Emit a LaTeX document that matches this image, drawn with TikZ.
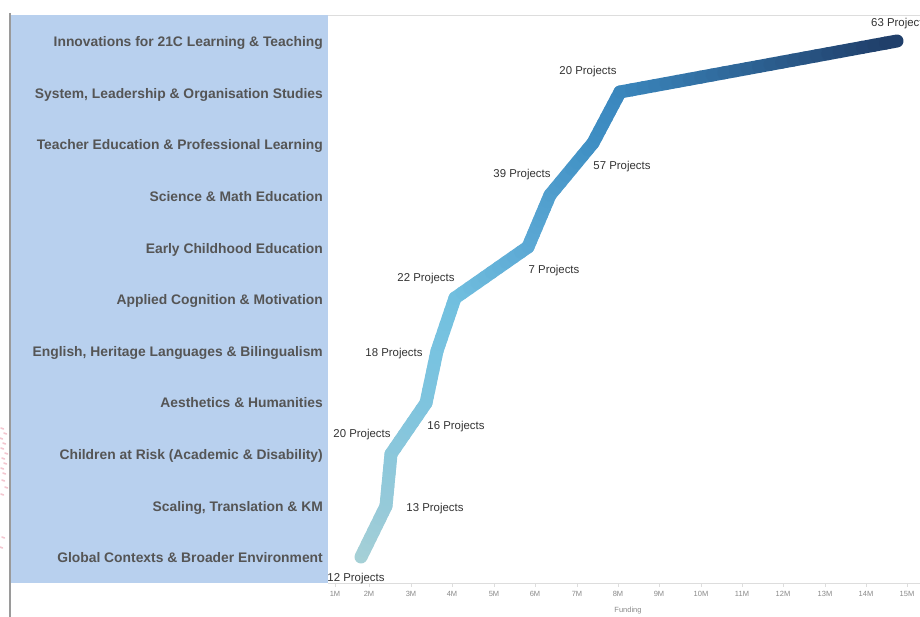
\documentclass[tikz,border=0pt]{standalone}
\usepackage{fontspec}
\setmainfont{Liberation Sans}
\usetikzlibrary{calc}
\definecolor{panel}{HTML}{B8D0EE}
\definecolor{catgray}{HTML}{555555}
\definecolor{labgray}{HTML}{333333}
\definecolor{axgray}{HTML}{8A8A8A}
\definecolor{rulegray}{HTML}{DDDDDD}
\definecolor{edgegray}{HTML}{9A9A9A}
\definecolor{artpink}{HTML}{F3C6CF}
\definecolor{c1}{HTML}{A6D0D6}
\definecolor{c2}{HTML}{97CAD9}
\definecolor{c3}{HTML}{8DC8DB}
\definecolor{c4}{HTML}{7FC4DE}
\definecolor{c5}{HTML}{79C3E0}
\definecolor{c6}{HTML}{72C0DF}
\definecolor{c7}{HTML}{5DAAD5}
\definecolor{c8}{HTML}{519FCE}
\definecolor{c9}{HTML}{4090C4}
\definecolor{c10}{HTML}{3B88BF}
\definecolor{c11}{HTML}{1F3D68}
\begin{document}
\begin{tikzpicture}[x=1pt,y=-1pt,
  cat/.style={font=\bfseries\fontsize{13.85}{15}\selectfont, text=catgray, anchor=base east, inner sep=0pt},
  plab/.style={font=\fontsize{11.4}{13}\selectfont, text=labgray, inner sep=0pt, anchor=base},
  axlab/.style={font=\fontsize{7.5}{9}\selectfont, text=axgray, inner sep=0pt},
  trail/.style={line width=13pt, line cap=round, line join=round}]
\useasboundingbox (0,0) rectangle (920,617);
\fill[white] (0,0) rectangle (920,617);
% screenshot artefacts at left edge
\foreach \yy/\xx in {428/1,433/4,438/0,443/3,448/1,453/5,458/2,463/4,468/1,473/3,480/2,487/5,494/1,537/2,547/0}
  \draw[artpink, line width=1.6pt, line cap=round] (\xx,\yy) -- (\xx+2.5,\yy+1);
% frame
\fill[panel] (11,15) rectangle (328,583);
\draw[rulegray, line width=0.8pt] (328,15) -- (920,15);
\draw[rulegray, line width=0.8pt] (328,583) -- (920,583);
\draw[edgegray, line width=1.8pt] (10,13) -- (10,617);
% category labels (baseline = row centre + 5.5)
\node[cat] (k1) at (323,46.5) {Innovations for 21C Learning \& Teaching};
\node[cat] (k2) at (323,98.5) {System, Leadership \& Organisation Studies};
\node[cat] (k3) at (323,149.5) {Teacher Education \& Professional Learning};
\node[cat] (k4) at (323,201.5) {Science \& Math Education};
\node[cat] (k5) at (323,253.5) {Early Childhood Education};
\node[cat] (k6) at (323,304.5) {Applied Cognition \& Motivation};
\node[cat] (k7) at (323,356.5) {English, Heritage Languages \& Bilingualism};
\node[cat] (k8) at (323,407.5) {Aesthetics \& Humanities};
\node[cat] (k9) at (323,459.5) {Children at Risk (Academic \& Disability)};
\node[cat] (k10) at (323,511.5) {Scaling, Translation \& KM};
\node[cat] (k11) at (323,562.5) {Global Contexts \& Broader Environment};
% axis
\foreach \v/\xx in {1/335,2/369,3/411,4/452,5/494,6/535,7/577,8/618,9/659,10/701,11/742,12/783,13/825,14/866,15/907} {
  \draw[rulegray, line width=0.8pt] (\xx,583) -- (\xx,587);
  \node[axlab] (t\v) at (\xx,593.5) {\v M};
}
\node[axlab] (fund) at (628,611) {Funding};
% data points
\coordinate (p1) at (361,557);
\coordinate (p2) at (386,506);
\coordinate (p3) at (391,454);
\coordinate (p4) at (426,403);
\coordinate (p5) at (437,351);
\coordinate (p6) at (455,298);
\coordinate (p7) at (528,247);
\coordinate (p8) at (550,195);
\coordinate (p9) at (593,143);
\coordinate (p10) at (620,92);
\coordinate (p11) at (897,41);
\foreach \a/\b/\n in {1/2/8,2/3/8,3/4/8,4/5/8,5/6/8,6/7/10,7/8/8,8/9/8,9/10/8,10/11/24} {
  \foreach \k in {1,...,\n} {
    \pgfmathtruncatemacro\pc{100-(\k-0.5)*100/\n}
    \draw[trail, color=c\a!\pc!c\b]
      ($(p\a)!{(\k-1)/\n}!(p\b)$) -- ($(p\a)!{\k/\n}!(p\b)$);
  }
}
% project labels (baseline = centre + 5)
\node[plab, anchor=base west] (l11) at (871,27) {63 Projects};
\node[plab] (l10) at (588,75) {20 Projects};
\node[plab] (l9) at (622,170) {57 Projects};
\node[plab] (l8) at (522,178) {39 Projects};
\node[plab] (l7) at (554,274) {7 Projects};
\node[plab] (l6) at (426,282) {22 Projects};
\node[plab] (l5) at (394,356) {18 Projects};
\node[plab] (l4) at (456,429) {16 Projects};
\node[plab] (l3) at (362,437) {20 Projects};
\node[plab] (l2) at (435,511) {13 Projects};
\node[plab] (l1) at (356,581) {12 Projects};
\end{tikzpicture}
\end{document}
